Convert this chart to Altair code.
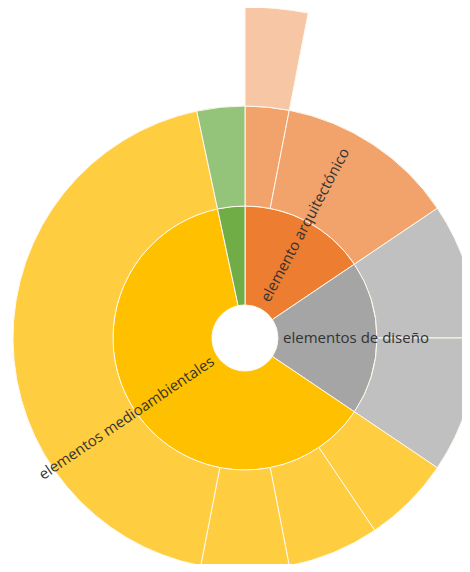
import altair as alt
import pandas as pd

# ---- data (angular sizes, in degrees of 360) ----
groups = ["elemento arquitectónico", "elementos de diseño",
          "elementos medioambientales", "otros"]
group_values = [56, 68, 224, 12]
group_labels = ["elemento arquitectónico", "elementos de diseño",
                "elementos medioambientales", ""]

sub_parent = ["elemento arquitectónico", "elemento arquitectónico",
              "elementos de diseño", "elementos de diseño",
              "elementos medioambientales", "elementos medioambientales",
              "elementos medioambientales", "elementos medioambientales",
              "otros"]
sub_values = [11, 45, 34, 34, 22, 23, 22, 157, 12]

leaf_parent_index = [0]      # third ring sits on the first sub-segment
leaf_values = [11]

# ---- styles ----
inner_colors = ["#ED7D31", "#A5A5A5", "#FFC000", "#70AD47"]
outer_colors = {"elemento arquitectónico": "#F2A26B",
                "elementos de diseño": "#C0C0C0",
                "elementos medioambientales": "#FFCD40",
                "otros": "#93C47A"}
leaf_color = "#F7C6A4"
label_radius = [128, 111, 143, 0]

W, H = 454, 556
CX, CY = 237, 330
R0, R1, R2, R3 = 33, 132, 232, 331

# ---- tables ----
inner = pd.DataFrame({"name": groups, "value": group_values,
                      "color": inner_colors, "label": group_labels,
                      "lr": label_radius})
inner["end"] = inner["value"].cumsum()
inner["start"] = inner["end"] - inner["value"]
inner["mid"] = (inner["start"] + inner["end"]) / 2
def rot(m):
    a = m - 90
    if 90 < m < 270:
        a -= 180
    return a % 360
inner["rot"] = inner["mid"].apply(rot)

outer = pd.DataFrame({"parent": sub_parent, "value": sub_values})
outer["end"] = outer["value"].cumsum()
outer["start"] = outer["end"] - outer["value"]
outer["color"] = outer["parent"].map(outer_colors)

leaf = pd.DataFrame({"value": leaf_values})
leaf["start"] = [outer.loc[i, "start"] for i in leaf_parent_index]
leaf["end"] = leaf["start"] + leaf["value"]
leaf["color"] = leaf_color

theta_scale = alt.Scale(domain=[0, 360], range=[0, 6.283185307])

def ring(df, r_in, r_out):
    return alt.Chart(df).mark_arc(stroke="#FFF8EC", strokeWidth=1).encode(
        theta=alt.Theta("start:Q", scale=theta_scale),
        theta2="end:Q",
        radius=alt.value(r_out),
        radius2=alt.value(r_in),
        color=alt.Color("color:N", scale=None),
        x=alt.value(CX), y=alt.value(CY),
    )

labels = alt.Chart(inner).mark_text(
    font="Open Sans", fontSize=15, color="#333333", align="center",
    baseline="middle"
).encode(
    theta=alt.Theta("mid:Q", scale=theta_scale),
    radius=alt.Radius("lr:Q", scale=None),
    angle=alt.Angle("rot:Q", scale=None),
    text="label:N",
    x=alt.value(CX), y=alt.value(CY),
)

chart = alt.layer(
    ring(inner, R0, R1), ring(outer, R1, R2), ring(leaf, R2, R3), labels
).properties(
    width=W, height=H, autosize=alt.AutoSizeParams(type="none"), padding=0,
    background="white"
).configure_view(stroke=None)

chart.save("out.html", embed_options={"renderer": "svg", "actions": False})
